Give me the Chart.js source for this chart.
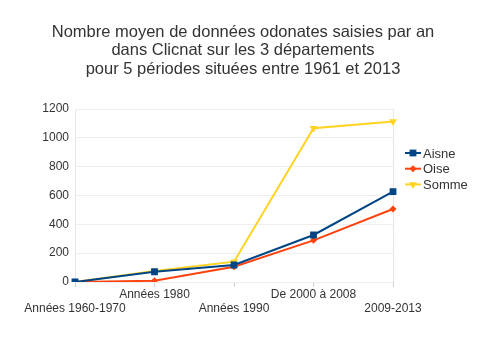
<!DOCTYPE html>
<html>
<head>
<meta charset="utf-8">
<script src="https://cdn.jsdelivr.net/npm/chart.js@4.4.1/dist/chart.umd.min.js"></script>
<style>
  html, body { margin: 0; padding: 0; background: #fff; }
  #wrap { width: 500px; height: 353px; }
</style>
</head>
<body>
<div id="wrap"><canvas id="odonatesChart" width="500" height="353"></canvas></div>
<script>
// Données
const periodes = ['Années 1960-1970', 'Années 1980', 'Années 1990', 'De 2000 à 2008', '2009-2013'];
const aisne = [0, 71, 118, 326, 627];
const oise = [0, 9, 106, 289, 506];
const somme = [0, 76, 141, 1066, 1114];
const yTicks = [0, 200, 400, 600, 800, 1000, 1200];
const titre = [
    'Nombre moyen de données odonates saisies par an',
    'dans Clicnat sur les 3 départements',
    'pour 5 périodes situées entre 1961 et 2013'
];

const FONT = '"Liberation Sans", Arial, sans-serif';
const TEXT = '#333333';

const series = [
    { label: 'Aisne', data: aisne, color: '#004586', style: 'rect', rot: 0, r: 4.8 },
    { label: 'Oise', data: oise, color: '#ff420e', style: 'rectRot', rot: 0, r: 3.5 },
    { label: 'Somme', data: somme, color: '#ffd320', style: 'triangle', rot: 180, r: 4.5 }
];

// titre et légende dessinés à la main
const decorPlugin = {
    id: 'decor',
    afterDraw(chart) {
        const ctx = chart.ctx;
        ctx.save();
        ctx.fillStyle = TEXT;
        ctx.textAlign = 'center';
        ctx.textBaseline = 'middle';
        ctx.font = '16.5px ' + FONT;
        titre.forEach((l, i) => ctx.fillText(l, 243, 32 + i * 18.5));

        ctx.font = '13px ' + FONT;
        ctx.textAlign = 'left';
        series.forEach((s, i) => {
            const y = 153 + i * 15.7;
            ctx.strokeStyle = s.color;
            ctx.lineWidth = 2;
            ctx.beginPath();
            ctx.moveTo(405, y);
            ctx.lineTo(421, y);
            ctx.stroke();
            ctx.fillStyle = s.color;
            Chart.helpers.drawPoint(ctx, { pointStyle: s.style, radius: s.r, rotation: s.rot, borderWidth: 0 }, 413, y);
            ctx.fillStyle = TEXT;
            ctx.fillText(s.label, 423, y + 1);
        });
        ctx.restore();
    }
};

new Chart(document.getElementById('odonatesChart'), {
    type: 'line',
    data: {
        labels: periodes,
        datasets: series.map(s => ({
            label: s.label,
            data: s.data,
            borderColor: s.color,
            backgroundColor: s.color,
            borderWidth: 2,
            pointStyle: s.style,
            pointRotation: s.rot,
            pointRadius: s.r,
            pointBorderWidth: 0,
            tension: 0
        }))
    },
    options: {
        responsive: false,
        animation: false,
        layout: { padding: { top: 109, right: 107, left: 0, bottom: 0 } },
        plugins: {
            legend: { display: false },
            title: { display: false },
            tooltip: { enabled: false }
        },
        scales: {
            x: {
                offset: false,
                grid: {
                    color: ctx => (ctx.index === 0 || ctx.index === 4) ? '#e6e6e6' : 'rgba(0,0,0,0)',
                    tickColor: '#d0d0d0',
                    tickLength: 5
                },
                border: { display: false },
                ticks: {
                    autoSkip: false,
                    maxRotation: 0,
                    padding: 0,
                    color: TEXT,
                    font: { family: FONT, size: 12 },
                    callback: function(value, index) {
                        const l = this.getLabelForValue(value);
                        return index % 2 === 0 ? ['', l] : l;
                    }
                },
                afterFit(scale) { scale.height = 71; }
            },
            y: {
                min: 0,
                max: 1200,
                grid: { color: '#eeeeee', tickLength: 4, tickColor: 'rgba(0,0,0,0)' },
                border: { display: false },
                afterBuildTicks(scale) { scale.ticks = yTicks.map(v => ({ value: v })); },
                ticks: {
                    color: TEXT,
                    padding: 2,
                    font: { family: FONT, size: 12 },
                    callback: v => String(v)
                },
                afterFit(scale) { scale.width = 75; }
            }
        }
    },
    plugins: [decorPlugin]
});
</script>
</body>
</html>
